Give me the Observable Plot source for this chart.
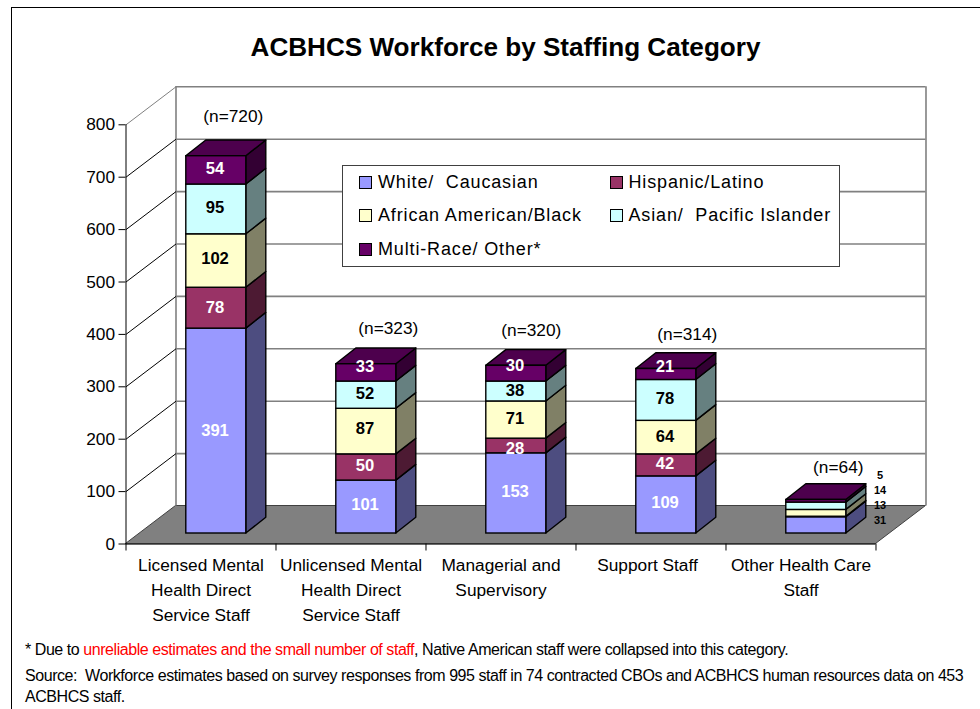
<!DOCTYPE html>
<html><head><meta charset="utf-8">
<script src="https://cdn.jsdelivr.net/npm/d3@7"></script>
<script src="https://cdn.jsdelivr.net/npm/@observablehq/plot@0.6"></script>
<style>
html,body{margin:0;padding:0;background:#fff;overflow:hidden}
#page{position:relative;width:980px;height:709px;font-family:"Liberation Sans",Arial,sans-serif;color:#000;overflow:hidden}
#frame{position:absolute;left:11px;top:7px;width:980px;height:720px;border:1.5px solid #000;box-sizing:border-box}
#title{position:absolute;left:0;top:30px;width:1011px;text-align:center;font-weight:bold;font-size:26.1px;line-height:34px}
#chart{position:absolute;left:0;top:70px}
#legend{position:absolute;left:342px;top:165px;width:498px;height:102px;background:#fff;border:1.5px solid #404040;box-sizing:border-box}
.li{position:absolute;font-size:18px;line-height:20px;white-space:pre;letter-spacing:.85px}
.sw{position:absolute;width:11px;height:11px;border:1px solid #000}
.fn{position:absolute;left:25px;font-size:16px;line-height:18px;white-space:pre;letter-spacing:-.44px}
</style></head><body>
<div id="page">
<div id="frame"></div>
<div id="title">ACBHCS Workforce by Staffing Category</div>
<div id="chart"></div>
<div id="legend"></div>
<div class="fn" style="top:641px">* Due to <span style="color:#f00">unreliable estimates and the small number of staff</span>, Native American staff were collapsed into this category.</div>
<div class="fn" style="top:667px">Source:  Workforce estimates based on survey responses from 995 staff in 74 contracted CBOs and ACBHCS human resources data on 453</div>
<div class="fn" style="top:688px">ACBHCS staff.</div>
</div>
<script>
const categories = ["Licensed Mental\nHealth Direct\nService Staff","Unlicensed Mental\nHealth Direct\nService Staff","Managerial and\nSupervisory","Support Staff","Other Health Care\nStaff"];
const totals = [720,323,320,314,64];
const series = ["White/  Caucasian","Hispanic/Latino","African American/Black","Asian/  Pacific Islander","Multi-Race/ Other*"];
const white = [391,101,153,109,31];
const hispanic = [78,50,28,42,1];
const black = [102,87,71,64,13];
const asian = [95,52,38,78,14];
const multi = [54,33,30,21,5];
const frontColors = ["#9999FF","#993366","#FFFFCC","#CCFFFF","#660066"];
const sideColors = ["#4D4D80","#4D1A33","#808066","#668080","#330033"];
const topColor = "#4D004D";
const labelColors = ["#fff","#fff","#000","#000","#fff"];
const yTicks = [0,100,200,300,400,500,600,700,800];

// Layout of the pseudo-3D box, in scale units
const pxPerUnit = 0.524, pxPerCat = 150;
const wallDx = 50/pxPerCat, wallDy = 38/pxPerUnit;
const barDx = 20/pxPerCat, barDy = 15.7/pxPerUnit;
const barBase = 10.5/pxPerUnit, barLeft = 0.402, barWidth = 0.4;
const nCat = categories.length;
const values = [white,hispanic,black,asian,multi];

const segs = [];
categories.forEach((c,i)=>{
  let lo = 0;
  values.forEach((v,s)=>{
    segs.push({i,s,v:v[i],lo:lo+barBase,hi:lo+v[i]+barBase,id:`${i}-${s}`});
    lo += v[i];
  });
});
const edge = (rows) => rows.flatMap(r=>[{...r,t:0},{...r,t:1}]);
const sideRows = edge(segs).map(r=>{
  const x = r.i+barLeft+barWidth+r.t*barDx;
  return {id:r.id,x,y1:r.lo+r.t*barDy,y2:r.hi+r.t*barDy,fill:sideColors[r.s]};
});
const topRows = edge(categories.map((c,i)=>({i,top:d3.sum(values,v=>v[i])}))).map(r=>({
  id:r.i,
  x1:r.i+barLeft+r.t*barDx, x2:r.i+barLeft+barWidth+r.t*barDx,
  y:r.top+barBase+r.t*barDy
}));
const floorRows = [0,1].map(t=>({x1:t*wallDx,x2:nCat+t*wallDx,y:t*wallDy}));

// Excel's hand-placed labels, as pixel nudges (positive = up)
const lift = {"0-4":1.7,"0-3":1.3,"0-2":2,"0-1":0,"0-0":0,"1-4":6,"1-3":1.7,"1-2":2.7,"1-1":1.7,"1-0":2,
              "2-4":7.7,"2-3":1,"2-2":1.3,"2-1":-2.7,"2-0":1.5,"3-4":8,"3-3":2,"3-2":1,"3-1":2,"3-0":2.5};
const nShift = [[17,40],[22,36],[15,35],[21,35],[22,33]];
const outerRank = {0:0,2:1,3:2,4:3};
const catShift = [0,0,0,-3.5,0];

const plot = Plot.plot({
  width:980, height:560,
  marginLeft:125.5, marginRight:53.5, marginTop:16, marginBottom:86.5,
  x:{type:"linear",domain:[0,nCat+wallDx+0.0067],axis:null},
  y:{type:"linear",domain:[0,(543.5-86)/pxPerUnit],axis:null},
  color:{type:"identity"},
  style:{fontFamily:'"Liberation Sans",Arial,sans-serif',background:"transparent",color:"#000",overflow:"visible"},
  marks:[
    // floor
    Plot.area(floorRows,{x1:"x1",x2:"x2",y1:"y",y2:"y",fill:"#808080",stroke:"#404040",strokeWidth:1}),
    // back wall
    Plot.ruleY(yTicks.slice(1),{y:d=>d+wallDy,x1:wallDx,x2:nCat+wallDx,stroke:"#808080",strokeWidth:1.6}),
    Plot.ruleX([wallDx,nCat+wallDx],{y1:wallDy,y2:800+wallDy,stroke:"#808080",strokeWidth:1.6}),
    // side wall
    Plot.link(yTicks.slice(1),{x1:0,x2:wallDx,y1:d=>d,y2:d=>d+wallDy,stroke:d=>d===800?"#808080":"#000",strokeWidth:1}),
    // axes
    Plot.ruleX([0],{y1:0,y2:800,stroke:"#000",strokeWidth:1}),
    Plot.ruleY([0],{x1:0,x2:nCat,stroke:"#000",strokeWidth:1}),
    Plot.axisY({ticks:yTicks,tickSize:7,tickPadding:4,fontSize:17.3,label:null,stroke:"#000",marginLeft:125.5}),
    Plot.axisX({ticks:d3.range(nCat+1),tickSize:7,tickFormat:()=>"",label:null,stroke:"#000"}),
    // bars: side faces, top, front faces
    Plot.area(sideRows,{x1:"x",x2:"x",y1:"y1",y2:"y2",z:"id",fill:"fill",stroke:"#000",strokeWidth:1.4}),
    Plot.area(topRows,{x1:"x1",x2:"x2",y1:"y",y2:"y",z:"id",fill:topColor,stroke:"#000",strokeWidth:1.4}),
    Plot.rect(segs,{x1:d=>d.i+barLeft,x2:d=>d.i+barLeft+barWidth,y1:"lo",y2:"hi",fill:d=>frontColors[d.s],stroke:"#000",strokeWidth:1.4}),
    // value labels
    Plot.text(segs.filter(d=>d.i<4),{x:d=>d.i+barLeft+barWidth/2-1.3/pxPerCat,y:d=>(d.lo+d.hi)/2+lift[d.id]/pxPerUnit,text:d=>String(d.v),fill:d=>labelColors[d.s],fontWeight:"bold",fontSize:16.6}),
    Plot.text(segs.filter(d=>d.i===4&&d.s in outerRank),{x:d=>d.i+barLeft+barWidth+0.225,y:d=>(45+outerRank[d.s]*28.6),text:d=>String(d.v),fill:"#000",fontWeight:"bold",fontSize:11}),
    // totals
    Plot.text(totals,{x:(d,i)=>i+barLeft+barWidth/2+nShift[i][0]/pxPerCat,y:(d,i)=>d+barBase+nShift[i][1]/pxPerUnit,text:d=>`(n=${d})`,fill:"#000",fontSize:17.3}),
    // category labels
    Plot.text(categories,{x:(d,i)=>i+0.5+catShift[i]/pxPerCat,y:0,text:d=>d,lineAnchor:"top",dy:10,lineHeight:1.42,fill:"#000",fontSize:17.3})
  ]
});
document.getElementById("chart").appendChild(plot);

// legend
const legend = document.getElementById("legend");
const colX = [16,266.5], rowY = [6,39,73];
series.forEach((s,i)=>{
  const col = i%2, row = Math.floor(i/2);
  const sw = document.createElement("div");
  sw.className="sw"; sw.style.left=colX[col]+"px"; sw.style.top=(rowY[row]+4)+"px"; sw.style.background=frontColors[i];
  const t = document.createElement("div");
  t.className="li"; t.textContent=s; t.style.left=(colX[col]+19)+"px"; t.style.top=rowY[row]+"px";
  legend.append(sw,t);
});
</script>
</body></html>
